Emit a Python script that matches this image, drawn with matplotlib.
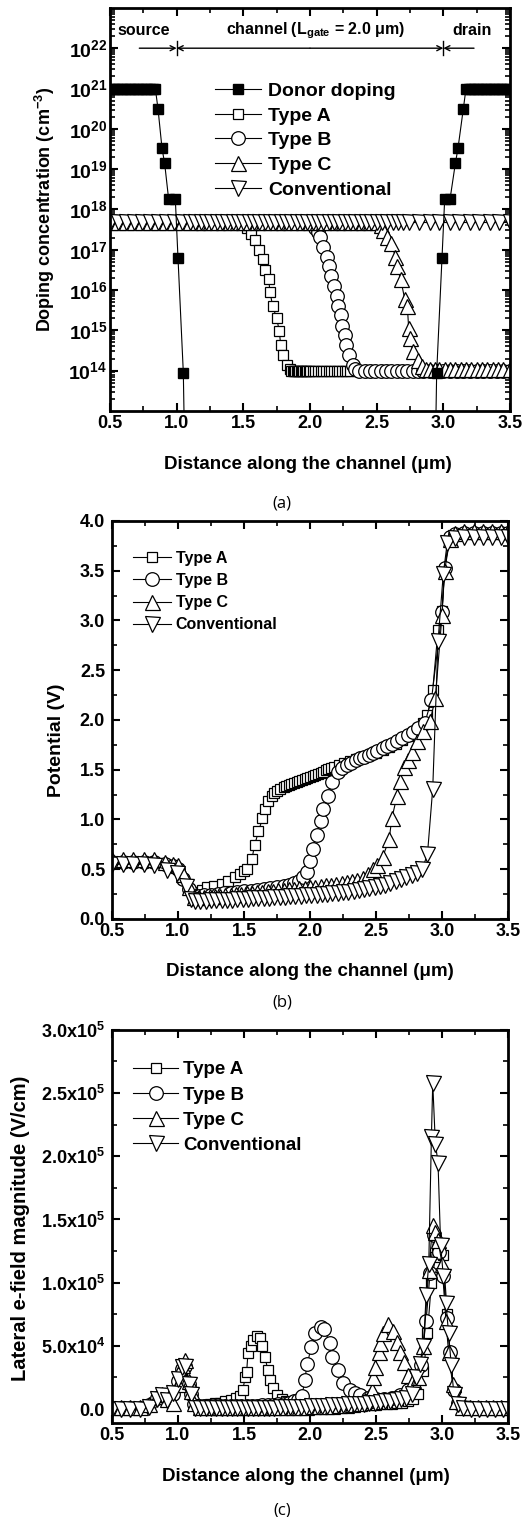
import numpy as np
import matplotlib
matplotlib.use("Agg")
import matplotlib.pyplot as plt
from matplotlib.lines import Line2D
from matplotlib.ticker import MultipleLocator, FixedLocator, FuncFormatter, LogLocator, NullFormatter

plt.rcParams["font.family"] = ["Liberation Sans", "DejaVu Sans"]
plt.rcParams["font.weight"] = "bold"
plt.rcParams["axes.labelweight"] = "bold"
plt.rcParams["mathtext.fontset"] = "custom"
for k in ("rm", "it", "bf", "sf"):
    plt.rcParams["mathtext." + k] = "Liberation Sans:bold"
plt.rcParams["axes.linewidth"] = 2

# ---------------- (a) doping profiles, log10 of concentration (cm^-3) ----------------
DONOR_X = [0.50, 0.52, 0.54, 0.56, 0.58, 0.60, 0.62, 0.64, 0.66, 0.68, 0.70, 0.72, 0.74, 0.76, 0.78, 0.80, 0.82, 0.84,
           0.86, 0.89, 0.91, 0.94, 0.99, 1.01, 1.05, 1.07,
           2.93, 2.95, 2.99, 3.01, 3.05, 3.09, 3.11, 3.15,
           3.17, 3.19, 3.21, 3.23, 3.25, 3.27, 3.29, 3.31, 3.33, 3.35, 3.37, 3.39, 3.41, 3.43, 3.45, 3.47, 3.49]
DONOR_LOG = [21.0, 21.0, 21.0, 21.0, 21.0, 21.0, 21.0, 21.0, 21.0, 21.0, 21.0, 21.0, 21.0, 21.0, 21.0, 21.0, 21.0, 21.0,
             20.5, 19.52, 19.14, 18.25, 18.25, 16.8, 13.95, 10.0,
             10.0, 13.95, 16.8, 18.25, 18.25, 19.14, 19.52, 20.5,
             21.0, 21.0, 21.0, 21.0, 21.0, 21.0, 21.0, 21.0, 21.0, 21.0, 21.0, 21.0, 21.0, 21.0, 21.0, 21.0, 21.0]

A_DOP_X = [0.50, 0.56, 0.62, 0.68, 0.74, 0.80, 0.86, 0.92, 0.98, 1.04, 1.10,
           1.15, 1.20, 1.25, 1.30, 1.35, 1.40, 1.45, 1.50,
           1.53, 1.56, 1.59, 1.62, 1.65, 1.66, 1.69, 1.70, 1.72, 1.75, 1.77, 1.78, 1.80, 1.83, 1.85,
           1.86, 1.87, 1.88, 1.89, 1.90, 1.91, 1.92, 1.93, 1.94, 1.95, 1.96, 1.97, 1.98, 1.99, 2.00,
           2.02, 2.04, 2.06, 2.08, 2.10, 2.12, 2.14, 2.16, 2.18, 2.20, 2.22, 2.24, 2.26, 2.28, 2.30,
           2.35, 2.40, 2.45, 2.50, 2.55, 2.60, 2.65, 2.70, 2.75, 2.80, 2.85, 2.90, 2.95, 3.00, 3.05, 3.10,
           3.15, 3.20, 3.25, 3.30, 3.35, 3.40, 3.45, 3.50]
A_DOP_LOG = [17.7, 17.7, 17.7, 17.7, 17.7, 17.7, 17.7, 17.7, 17.7, 17.7, 17.7,
             17.7, 17.7, 17.7, 17.7, 17.7, 17.7, 17.7, 17.7,
             17.55, 17.4, 17.24, 17.0, 16.76, 16.5, 16.27, 15.95, 15.6, 15.3, 14.98, 14.64, 14.4, 14.15, 14.05,
             14.0, 14.0, 14.0, 14.0, 14.0, 14.0, 14.0, 14.0, 14.0, 14.0, 14.0, 14.0, 14.0, 14.0, 14.0,
             14.0, 14.0, 14.0, 14.0, 14.0, 14.0, 14.0, 14.0, 14.0, 14.0, 14.0, 14.0, 14.0, 14.0, 14.0,
             14.0, 14.0, 14.0, 14.0, 14.0, 14.0, 14.0, 14.0, 14.0, 14.0, 14.0, 14.0, 14.0, 14.0, 14.0, 14.0,
             14.0, 14.0, 14.0, 14.0, 14.0, 14.0, 14.0, 14.0]

B_DOP_X = [0.50, 0.56, 0.62, 0.68, 0.74, 0.80, 0.86, 0.92, 0.98, 1.04, 1.10,
           1.15, 1.20, 1.25, 1.30, 1.35, 1.40, 1.45, 1.50, 1.55, 1.60, 1.65, 1.70, 1.75, 1.80, 1.85, 1.90, 1.94, 1.98, 2.01,
           2.04, 2.06, 2.075, 2.10, 2.13, 2.14, 2.16, 2.18, 2.20, 2.21, 2.23, 2.24, 2.26, 2.27, 2.29, 2.32, 2.34,
           2.37, 2.41, 2.45, 2.49, 2.53, 2.57, 2.61, 2.65, 2.69, 2.73, 2.77, 2.81, 2.85, 2.90, 2.95, 3.00,
           3.05, 3.10, 3.15, 3.20, 3.25, 3.30, 3.35, 3.40, 3.45, 3.50]
B_DOP_LOG = [17.7, 17.7, 17.7, 17.7, 17.7, 17.7, 17.7, 17.7, 17.7, 17.7, 17.7,
             17.7, 17.7, 17.7, 17.7, 17.7, 17.7, 17.7, 17.7, 17.7, 17.7, 17.7, 17.7, 17.7, 17.7, 17.7, 17.7, 17.7, 17.7, 17.7,
             17.55, 17.45, 17.32, 17.07, 16.83, 16.59, 16.34, 16.1, 15.85, 15.6, 15.37, 15.12, 14.88, 14.63, 14.39, 14.15, 14.05,
             14.0, 14.0, 14.0, 14.0, 14.0, 14.0, 14.0, 14.0, 14.0, 14.0, 14.0, 14.0, 14.0, 14.0, 14.0, 14.0,
             14.0, 14.0, 14.0, 14.0, 14.0, 14.0, 14.0, 14.0, 14.0, 14.0]

C_DOP_X = [0.50, 0.56, 0.62, 0.68, 0.74, 0.80, 0.86, 0.92, 0.98, 1.04, 1.10,
           1.15, 1.20, 1.25, 1.30, 1.35, 1.40, 1.45, 1.50, 1.55, 1.60, 1.65, 1.70, 1.75, 1.80, 1.85, 1.90, 1.95, 2.00,
           2.05, 2.10, 2.15, 2.20, 2.25, 2.30, 2.35, 2.40, 2.45, 2.50,
           2.53, 2.55, 2.58, 2.61, 2.64, 2.65, 2.68, 2.71, 2.73, 2.74, 2.75, 2.77, 2.81, 2.84,
           2.87, 2.90, 2.94, 2.97, 3.01, 3.05, 3.09, 3.13, 3.17, 3.21, 3.25, 3.29, 3.33, 3.37, 3.41, 3.45, 3.50]
C_DOP_LOG = [17.7, 17.7, 17.7, 17.7, 17.7, 17.7, 17.7, 17.7, 17.7, 17.7, 17.7,
             17.7, 17.7, 17.7, 17.7, 17.7, 17.7, 17.7, 17.7, 17.7, 17.7, 17.7, 17.7, 17.7, 17.7, 17.7, 17.7, 17.7, 17.7,
             17.7, 17.7, 17.7, 17.7, 17.7, 17.7, 17.7, 17.7, 17.7, 17.7,
             17.62, 17.5, 17.32, 17.17, 16.83, 16.59, 16.27, 15.78, 15.6, 15.05, 14.8, 14.49, 14.27, 14.12,
             14.05, 14.05, 14.05, 14.05, 14.05, 14.05, 14.05, 14.05, 14.05, 14.05, 14.05, 14.05, 14.05, 14.05,
             14.05, 14.05, 14.05]

CONV_DOP_X = [0.50, 0.56, 0.62, 0.68, 0.74, 0.80, 0.86, 0.92, 0.98, 1.04, 1.10,
              1.14, 1.18, 1.22, 1.26, 1.30, 1.34, 1.38, 1.42, 1.46, 1.50, 1.54, 1.58, 1.62, 1.66, 1.70, 1.74,
              1.78, 1.82, 1.86, 1.90, 1.94, 1.98, 2.02, 2.06, 2.10, 2.14, 2.18, 2.22, 2.26, 2.30, 2.34, 2.38,
              2.42, 2.46, 2.50, 2.54, 2.58, 2.62, 2.66, 2.70, 2.74,
              2.82, 2.90, 2.97, 3.05, 3.12, 3.20, 3.27, 3.35, 3.42, 3.50]
CONV_DOP_LOG = [17.68, 17.68, 17.68, 17.68, 17.68, 17.68, 17.68, 17.68, 17.68, 17.68, 17.68,
                17.68, 17.68, 17.68, 17.68, 17.68, 17.68, 17.68, 17.68, 17.68, 17.68, 17.68, 17.68, 17.68, 17.68,
                17.68, 17.68, 17.68, 17.68, 17.68, 17.68, 17.68, 17.68, 17.68, 17.68, 17.68, 17.68, 17.68, 17.68,
                17.68, 17.68, 17.68, 17.68, 17.68, 17.68, 17.68, 17.68, 17.68, 17.68, 17.68, 17.68, 17.68,
                17.68, 17.68, 17.68, 17.68, 17.68, 17.68, 17.68, 17.68, 17.68, 17.68]

GATE_EDGES = [1.0, 3.0]

# ---------------- (b) potential (V) ----------------
A_POT_X = [0.50, 0.58, 0.66, 0.74, 0.82, 0.90, 0.96, 1.00, 1.04, 1.08,
           1.12, 1.14, 1.18, 1.22, 1.27, 1.33, 1.38, 1.43, 1.47, 1.50, 1.52, 1.56, 1.58, 1.61, 1.64, 1.66,
           1.68, 1.71, 1.73, 1.75, 1.77,
           1.80, 1.82, 1.84, 1.86, 1.88, 1.90, 1.92, 1.94, 1.96, 1.98, 2.00, 2.02, 2.04, 2.06, 2.08, 2.10,
           2.12, 2.14, 2.16, 2.18,
           2.22, 2.26, 2.30, 2.35, 2.40, 2.45, 2.50, 2.55, 2.60, 2.65, 2.70, 2.74, 2.78, 2.82, 2.86, 2.89,
           2.93, 2.97, 3.00, 3.02, 3.05,
           3.10, 3.17, 3.24, 3.31, 3.38, 3.45, 3.50]
A_POT = [0.57, 0.57, 0.57, 0.57, 0.57, 0.55, 0.53, 0.50, 0.40, 0.30,
         0.25, 0.27, 0.29, 0.32, 0.33, 0.35, 0.38, 0.42, 0.45, 0.48, 0.50, 0.60, 0.74, 0.88, 1.01, 1.11,
         1.19, 1.24, 1.27, 1.29, 1.31,
         1.33, 1.34, 1.35, 1.36, 1.37, 1.38, 1.39, 1.40, 1.41, 1.42, 1.43, 1.44, 1.45, 1.46, 1.47, 1.48,
         1.50, 1.51, 1.52, 1.53,
         1.55, 1.57, 1.59, 1.61, 1.63, 1.65, 1.67, 1.70, 1.73, 1.76, 1.80, 1.84, 1.88, 1.92, 1.97, 2.05,
         2.30, 2.90, 3.10, 3.50, 3.80,
         3.86, 3.88, 3.88, 3.88, 3.88, 3.88, 3.88]

B_POT_X = [0.50, 0.58, 0.66, 0.74, 0.82, 0.90, 0.96, 1.00, 1.04, 1.08,
           1.12, 1.16, 1.20, 1.25, 1.30, 1.35, 1.40, 1.45, 1.50, 1.55, 1.60, 1.65, 1.70, 1.75, 1.80, 1.84,
           1.88, 1.92, 1.95, 1.98,
           2.00, 2.02, 2.05, 2.08, 2.10, 2.14, 2.17, 2.21, 2.24, 2.28, 2.31, 2.35, 2.38, 2.41, 2.45, 2.48,
           2.51, 2.55, 2.58, 2.62,
           2.66, 2.70, 2.74, 2.78, 2.82, 2.87, 2.92, 3.00, 3.02, 3.06,
           3.10, 3.17, 3.24, 3.31, 3.38, 3.45, 3.50]
B_POT = [0.57, 0.57, 0.57, 0.57, 0.57, 0.55, 0.53, 0.50, 0.40, 0.30,
         0.23, 0.235, 0.24, 0.245, 0.25, 0.26, 0.265, 0.27, 0.28, 0.285, 0.29, 0.30, 0.31, 0.32, 0.33, 0.34,
         0.36, 0.38, 0.42, 0.47,
         0.58, 0.70, 0.84, 0.98, 1.11, 1.24, 1.38, 1.48, 1.52, 1.55, 1.57, 1.60, 1.62, 1.63, 1.65, 1.67,
         1.69, 1.72, 1.74, 1.76,
         1.79, 1.82, 1.85, 1.88, 1.92, 1.97, 2.20, 3.08, 3.53, 3.84,
         3.87, 3.88, 3.88, 3.88, 3.88, 3.88, 3.88]

C_POT_X = [0.50, 0.58, 0.66, 0.74, 0.82, 0.90, 0.96, 1.00, 1.04, 1.08,
           1.12, 1.16, 1.20, 1.24, 1.28, 1.32, 1.36, 1.40, 1.44, 1.48, 1.52, 1.56, 1.60, 1.64, 1.68, 1.72, 1.76,
           1.80, 1.84, 1.88, 1.92, 1.96, 2.00, 2.04, 2.08, 2.12, 2.16, 2.20, 2.24, 2.28, 2.32, 2.36, 2.40, 2.44,
           2.48, 2.51, 2.55, 2.60, 2.62, 2.66, 2.68, 2.71, 2.74, 2.77, 2.81, 2.86, 2.91, 2.95,
           3.00, 3.02, 3.06, 3.10, 3.17, 3.24, 3.31, 3.38, 3.45, 3.50]
C_POT = [0.60, 0.60, 0.60, 0.60, 0.60, 0.57, 0.55, 0.54, 0.45, 0.32,
         0.22, 0.222, 0.225, 0.228, 0.23, 0.235, 0.24, 0.245, 0.25, 0.255, 0.26, 0.265, 0.27, 0.275, 0.28, 0.285, 0.29,
         0.295, 0.30, 0.305, 0.31, 0.315, 0.32, 0.325, 0.33, 0.34, 0.345, 0.35, 0.36, 0.37, 0.38, 0.395, 0.41, 0.45,
         0.50, 0.54, 0.62, 0.80, 1.01, 1.24, 1.39, 1.53, 1.60, 1.68, 1.79, 1.89, 1.99, 2.22,
         3.05, 3.50, 3.82, 3.88, 3.90, 3.90, 3.90, 3.90, 3.90, 3.90]

CONV_POT_X = [0.50, 0.58, 0.66, 0.74, 0.82, 0.92, 0.99, 1.06, 1.10,
              1.13, 1.17, 1.21, 1.25, 1.29, 1.33, 1.37, 1.41, 1.45, 1.49, 1.53, 1.57, 1.61, 1.65, 1.69,
              1.73, 1.77, 1.81, 1.85, 1.89, 1.93, 1.97, 2.01, 2.05, 2.09, 2.13, 2.17, 2.21, 2.25, 2.29,
              2.33, 2.37, 2.41, 2.45, 2.49, 2.53, 2.57, 2.61, 2.65, 2.69, 2.73, 2.77, 2.81,
              2.85, 2.89, 2.93, 2.97, 3.01, 3.04,
              3.10, 3.17, 3.24, 3.31, 3.38, 3.45, 3.50]
CONV_POT = [0.55, 0.55, 0.55, 0.55, 0.54, 0.49, 0.46, 0.33, 0.20,
            0.18, 0.182, 0.184, 0.186, 0.188, 0.19, 0.192, 0.195, 0.198, 0.20, 0.203, 0.206, 0.209, 0.212, 0.215,
            0.218, 0.221, 0.224, 0.227, 0.23, 0.234, 0.238, 0.242, 0.246, 0.25, 0.255, 0.26, 0.265, 0.27, 0.276,
            0.282, 0.29, 0.30, 0.31, 0.32, 0.33, 0.345, 0.36, 0.38, 0.40, 0.42, 0.44, 0.46,
            0.50, 0.65, 1.31, 2.79, 3.47, 3.78,
            3.83, 3.84, 3.84, 3.84, 3.84, 3.84, 3.84]

# ---------------- (c) lateral e-field magnitude (V/cm) ----------------
A_EF_X = [0.50, 0.57, 0.64, 0.71, 0.78, 0.84, 0.88, 0.92, 0.96, 1.00, 1.03, 1.05, 1.08, 1.10, 1.12,
          1.16, 1.20, 1.24, 1.28, 1.32, 1.36, 1.40, 1.44, 1.47, 1.49, 1.51, 1.52, 1.53, 1.55, 1.57, 1.60,
          1.62, 1.64, 1.66, 1.68,
          1.70, 1.72, 1.75, 1.79, 1.82, 1.86, 1.90,
          1.94, 1.98, 2.02, 2.06, 2.10, 2.14, 2.18, 2.22, 2.26, 2.30, 2.34, 2.38, 2.42, 2.46, 2.50, 2.54,
          2.58, 2.62, 2.66, 2.70, 2.74, 2.78,
          2.82, 2.86, 2.89, 2.92, 2.95, 2.98, 3.01, 3.04, 3.06, 3.09, 3.12, 3.16,
          3.22, 3.28, 3.34, 3.40, 3.46, 3.50]
A_EF = [1e3, 1e3, 1e3, 1e3, 3e3, 9e3, 1.1e4, 7e3, 1.2e4, 2.2e4, 3.2e4, 3.4e4, 2.0e4, 1.2e4, 4e3,
        3e3, 3.5e3, 4e3, 4.5e3, 5e3, 6e3, 7.5e3, 9e3, 1.0e4, 1.5e4, 2.5e4, 2.9e4, 4.4e4, 5.0e4, 5.5e4, 5.8e4,
        5.6e4, 5.0e4, 4.1e4, 3.1e4,
        2.3e4, 1.7e4, 1.1e4, 8e3, 6e3, 5e3, 4e3,
        3.5e3, 3.2e3, 3e3, 3e3, 3e3, 3e3, 3e3, 3e3, 3e3, 3e3, 3e3, 3e3, 3e3, 3.2e3, 3.4e3, 3.6e3,
        3.8e3, 4e3, 4.5e3, 5e3, 6e3, 8e3,
        1.2e4, 3.0e4, 6.0e4, 1.0e5, 1.2e5, 1.28e5, 1.22e5, 7.5e4, 4.5e4, 1.5e4, 5e3, 2e3,
        1e3, 1e3, 1e3, 1e3, 1e3, 1e3]

B_EF_X = [0.50, 0.57, 0.64, 0.71, 0.78, 0.84, 0.88, 0.92, 0.96, 1.00, 1.03, 1.05, 1.08, 1.10, 1.12,
          1.16, 1.20, 1.24, 1.28, 1.32, 1.36, 1.40, 1.44, 1.48, 1.52, 1.56, 1.60, 1.64, 1.68, 1.72, 1.76,
          1.80, 1.84, 1.88, 1.91,
          1.94, 1.96, 1.98, 2.01, 2.04, 2.08, 2.11, 2.15, 2.17, 2.21, 2.25, 2.30, 2.34, 2.38, 2.44, 2.50,
          2.56, 2.62, 2.68, 2.74,
          2.79, 2.84, 2.88, 2.91, 2.94, 2.98, 3.01, 3.04, 3.06, 3.09, 3.12, 3.16,
          3.22, 3.28, 3.34, 3.40, 3.46, 3.50]
B_EF = [1e3, 1e3, 1e3, 1e3, 3e3, 9e3, 1.1e4, 7e3, 1.2e4, 2.2e4, 3.2e4, 3.4e4, 2.0e4, 1.2e4, 4e3,
        2.5e3, 2.5e3, 2.5e3, 2.5e3, 2.5e3, 2.5e3, 2.5e3, 2.5e3, 2.5e3, 2.6e3, 2.7e3, 2.8e3, 3e3, 3.2e3, 3.5e3, 3.8e3,
        4.2e3, 5e3, 6e3, 7.5e3,
        1.0e4, 2.3e4, 3.6e4, 4.9e4, 6.0e4, 6.5e4, 6.3e4, 5.2e4, 4.1e4, 3.1e4, 2.1e4, 1.5e4, 1.3e4, 1.1e4, 9e3, 8e3,
        8e3, 9e3, 1.1e4, 1.5e4,
        2.2e4, 3.5e4, 7.0e4, 1.08e5, 1.38e5, 1.24e5, 1.05e5, 7.2e4, 4.5e4, 1.5e4, 5e3, 2e3,
        1e3, 1e3, 1e3, 1e3, 1e3, 1e3]

C_EF_X = [0.50, 0.57, 0.64, 0.71, 0.78, 0.84, 0.88, 0.92, 0.96, 1.00, 1.03, 1.05, 1.08, 1.10, 1.12,
          1.17, 1.22, 1.27, 1.32, 1.37, 1.42, 1.47, 1.52, 1.57, 1.62, 1.67, 1.72, 1.77, 1.82, 1.87, 1.92,
          1.97, 2.02, 2.07, 2.12, 2.17, 2.22, 2.27, 2.32, 2.37, 2.42,
          2.45, 2.47, 2.48, 2.49, 2.52, 2.53, 2.55, 2.59, 2.63, 2.66, 2.68, 2.71, 2.74, 2.78,
          2.82, 2.86, 2.90, 2.93, 2.95, 2.97, 3.00, 3.03, 3.05, 3.08, 3.11, 3.15,
          3.21, 3.27, 3.33, 3.39, 3.45, 3.50]
C_EF = [2e3, 2e3, 2e3, 2e3, 4e3, 1.0e4, 1.2e4, 8e3, 5e3, 2.0e4, 3.5e4, 3.9e4, 2.2e4, 1.4e4, 5e3,
        2e3, 2e3, 2e3, 2e3, 2e3, 2e3, 2e3, 2e3, 2e3, 2e3, 2e3, 2e3, 2e3, 2e3, 2e3, 2e3,
        2e3, 2.2e3, 2.4e3, 2.6e3, 2.8e3, 3e3, 3.5e3, 4e3, 5e3, 7e3,
        1.0e4, 1.5e4, 2.5e4, 3.3e4, 4.5e4, 5.2e4, 6.0e4, 6.7e4, 6.2e4, 5.3e4, 4.5e4, 3.7e4, 2.7e4, 2.3e4,
        2.5e4, 5.0e4, 1.1e5, 1.46e5, 1.4e5, 1.34e5, 1.15e5, 7.0e4, 4.5e4, 2.0e4, 6e3, 2e3,
        2e3, 2e3, 2e3, 2e3, 2e3, 2e3]

CONV_EF_X = [0.50, 0.57, 0.64, 0.71, 0.78, 0.84, 0.88, 0.92, 0.96, 1.00, 1.03, 1.05, 1.08, 1.10,
             1.13, 1.17, 1.21, 1.25, 1.29, 1.33, 1.37, 1.41, 1.45, 1.49, 1.53, 1.57, 1.61, 1.65, 1.69,
             1.73, 1.77, 1.81, 1.85, 1.89, 1.93, 1.97, 2.01, 2.05, 2.09, 2.13, 2.17, 2.21, 2.25, 2.29,
             2.33, 2.37, 2.41, 2.45, 2.49, 2.53, 2.57, 2.61, 2.65, 2.69, 2.73,
             2.77, 2.80, 2.83, 2.86, 2.88, 2.90, 2.92, 2.93, 2.95, 2.97, 2.99, 3.01, 3.03, 3.05, 3.07, 3.09,
             3.12, 3.16,
             3.22, 3.28, 3.34, 3.40, 3.46, 3.50]
CONV_EF = [0, 0, 0, 0, 2e3, 8e3, 1.1e4, 7e3, 1.3e4, 2.4e4, 3.3e4, 3.4e4, 2.0e4, 1.2e4,
           1e3, 1e3, 1e3, 1e3, 1e3, 1e3, 1e3, 1e3, 1e3, 1e3, 1e3, 1e3, 1e3, 1e3, 1e3,
           1.2e3, 1.4e3, 1.6e3, 1.8e3, 2e3, 2e3, 2e3, 2.2e3, 2.4e3, 2.6e3, 2.8e3, 3e3, 3.2e3, 3.4e3, 3.6e3,
           3.8e3, 4e3, 4.3e3, 4.6e3, 5e3, 5.5e3, 6e3, 6.5e3, 7e3, 8e3, 9e3,
           1.2e4, 2.5e4, 3.6e4, 5.0e4, 9.0e4, 1.15e5, 2.15e5, 2.58e5, 2.1e5, 1.95e5, 1.3e5, 1.05e5, 8.4e4,
           6.0e4, 3.5e4, 1.2e4,
           4e3, 1e3,
           0, 0, 0, 0, 0, 0]

LABELS = ["Type A", "Type B", "Type C", "Conventional"]
MARKERS = ["s", "o", "^", "v"]
MSIZES = [7.8, 9.8, 10.8, 10.8]


def open_style(i):
    return dict(marker=MARKERS[i], ms=MSIZES[i], mfc="white", mec="black", mew=0.9,
                color="black", lw=0.8)


def style_axes(ax, xsize, ysize, ypad):
    ax.set_xlim(0.5, 3.5)
    ax.xaxis.set_major_locator(MultipleLocator(0.5))
    ax.xaxis.set_minor_locator(MultipleLocator(0.25))
    ax.tick_params(which="both", direction="in", top=True, right=True)
    ax.tick_params(which="major", length=6, width=1.5)
    ax.tick_params(which="minor", length=3.5, width=1.2)
    ax.tick_params(axis="x", which="major", labelsize=xsize, pad=3)
    ax.tick_params(axis="y", which="major", labelsize=ysize, pad=ypad)


fig = plt.figure(figsize=(5.24, 15.17), dpi=100)

# ---------------- panel (a) ----------------
ax1 = fig.add_axes([0.2099, 0.7291, 0.7634, 0.2657])
for i, (xs, ls) in enumerate([(A_DOP_X, A_DOP_LOG), (B_DOP_X, B_DOP_LOG),
                               (C_DOP_X, C_DOP_LOG), (CONV_DOP_X, CONV_DOP_LOG)]):
    ax1.plot(xs, 10.0 ** np.array(ls), **open_style(i))
ax1.plot(DONOR_X, 10.0 ** np.array(DONOR_LOG), marker="s", ms=7.8, mfc="black", mec="black",
         color="black", lw=0.8)
ax1.set_yscale("log")
ax1.set_ylim(1e13, 1e23)
ax1.yaxis.set_major_locator(FixedLocator([10.0 ** e for e in range(14, 23)]))
ax1.yaxis.set_major_formatter(FuncFormatter(lambda v, p: r"$10^{%d}$" % round(np.log10(v))))
ax1.yaxis.set_minor_locator(LogLocator(base=10, subs=np.arange(2, 10), numticks=30))
ax1.yaxis.set_minor_formatter(NullFormatter())
style_axes(ax1, 13, 14, 2)
ax1.set_xlabel("Distance along the channel (μm)", fontsize=13.5)
ax1.xaxis.label.set_va("center")
ax1.xaxis.set_label_coords(0.495, -0.134)
ax1.set_ylabel("Doping concentration (cm$^{-3}$)", fontsize=13)
ax1.yaxis.label.set_va("center")
ax1.yaxis.set_label_coords(-0.1625, 0.5)

# source / channel / drain annotation
ay = 1e22
arrow = dict(arrowstyle="->", lw=1, color="black", shrinkA=0, shrinkB=0, mutation_scale=9)
ax1.annotate("", xy=(GATE_EDGES[0], ay), xytext=(0.72, ay), arrowprops=arrow)
ax1.annotate("", xy=(GATE_EDGES[0], ay), xytext=(2.0, ay), arrowprops=arrow)
ax1.annotate("", xy=(GATE_EDGES[1], ay), xytext=(2.0, ay), arrowprops=arrow)
ax1.annotate("", xy=(GATE_EDGES[1], ay), xytext=(3.23, ay), arrowprops=arrow)
for gx in GATE_EDGES:
    ax1.plot([gx, gx], [10 ** 21.83, 10 ** 22.17], color="black", lw=1)
ty = 10 ** 22.43
ax1.text(0.755, ty, "source", ha="center", va="center", fontsize=11.5)
ax1.text(2.04, ty, r"channel (L$_{\mathrm{gate}}$ = 2.0 μm)", ha="center", va="center", fontsize=11.5)
ax1.text(3.215, ty, "drain", ha="center", va="center", fontsize=11.5)

h_a = [Line2D([], [], marker="s", ms=7.8, mfc="black", mec="black", color="black", lw=0.8)]
h_a += [Line2D([], [], **open_style(i)) for i in range(4)]
ax1.legend(h_a, ["Donor doping"] + LABELS, loc="upper left", bbox_to_anchor=(0.262, 0.815),
           frameon=False, fontsize=14, handlelength=2.4, handletextpad=0.35, labelspacing=0.36,
           borderpad=0, borderaxespad=0)

# ---------------- panel (b) ----------------
ax2 = fig.add_axes([0.2137, 0.3942, 0.7557, 0.2624])
for i, (xs, ys) in enumerate([(A_POT_X, A_POT), (B_POT_X, B_POT), (C_POT_X, C_POT), (CONV_POT_X, CONV_POT)]):
    ax2.plot(xs, ys, **open_style(i))
ax2.set_ylim(0, 4.0)
ax2.yaxis.set_major_locator(MultipleLocator(0.5))
ax2.yaxis.set_minor_locator(MultipleLocator(0.25))
ax2.yaxis.set_major_formatter(FuncFormatter(lambda v, p: "%.1f" % v))
style_axes(ax2, 13, 13, 5)
ax2.set_xlabel("Distance along the channel (μm)", fontsize=13.5)
ax2.xaxis.label.set_va("center")
ax2.xaxis.set_label_coords(0.5, -0.131)
ax2.set_ylabel("Potential (V)", fontsize=14)
ax2.yaxis.label.set_va("center")
ax2.yaxis.set_label_coords(-0.139, 0.45)
ax2.legend([Line2D([], [], **open_style(i)) for i in range(4)], LABELS, loc="upper left",
           bbox_to_anchor=(0.052, 0.925), frameon=False, fontsize=11.5, handlelength=2.4,
           handletextpad=0.3, labelspacing=0.45, borderpad=0, borderaxespad=0)

# ---------------- panel (c) ----------------
ax3 = fig.add_axes([0.2137, 0.0620, 0.7557, 0.2591])
for i, (xs, ys) in enumerate([(A_EF_X, A_EF), (B_EF_X, B_EF), (C_EF_X, C_EF), (CONV_EF_X, CONV_EF)]):
    ax3.plot(xs, ys, **open_style(i))
ax3.set_ylim(-1.1e4, 3.0e5)
ax3.yaxis.set_major_locator(MultipleLocator(5e4))
ax3.yaxis.set_minor_locator(MultipleLocator(2.5e4))


def sci_fmt(v, p):
    if abs(v) < 1:
        return "0.0"
    if v < 0:
        return ""
    e = int(np.floor(np.log10(v)))
    return "%.1fx10$^{%d}$" % (v / 10 ** e, e)


ax3.yaxis.set_major_formatter(FuncFormatter(sci_fmt))
style_axes(ax3, 13, 13, 5)
ax3.set_xlabel("Distance along the channel (μm)", fontsize=13.5)
ax3.xaxis.label.set_va("center")
ax3.xaxis.set_label_coords(0.49, -0.137)
ax3.set_ylabel("Lateral e-field magnitude (V/cm)", fontsize=14.5)
ax3.yaxis.label.set_va("center")
ax3.yaxis.set_label_coords(-0.232, 0.494)
ax3.legend([Line2D([], [], **open_style(i)) for i in range(4)], LABELS, loc="upper left",
           bbox_to_anchor=(0.054, 0.92), frameon=False, fontsize=13.5, handlelength=2.4,
           handletextpad=0.27, labelspacing=0.43, borderpad=0, borderaxespad=0)

# captions
for lab, yy in [("(a)", 0.668), ("(b)", 0.339), ("(c)", 0.0046)]:
    fig.text(0.538, yy, lab, ha="center", va="center", fontsize=12, fontweight="normal",
             family=["Open Sans", "DejaVu Sans"])

fig.savefig("out.png", dpi=100)
